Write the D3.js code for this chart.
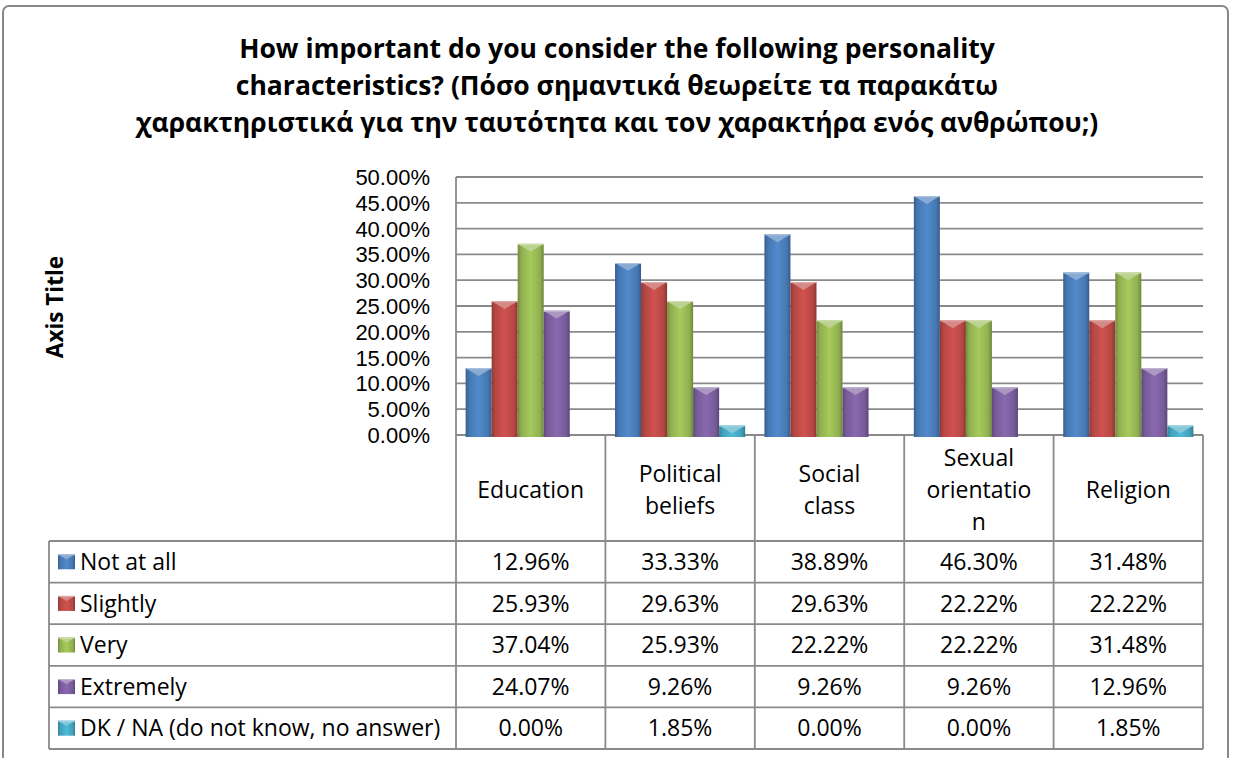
<!DOCTYPE html>
<html>
<head>
<meta charset="utf-8">
<script src="https://cdn.jsdelivr.net/npm/d3@7"></script>
<style>
  html, body { margin: 0; padding: 0; background: #fff; }
  svg { display: block; font-family: "Open Sans", "Noto Sans", sans-serif; }
</style>
</head>
<body>
<svg id="chart" width="1233" height="758"></svg>
<script>
// ---- data ----
const categories = ["Education", "Political beliefs", "Social class", "Sexual orientation", "Religion"];
const headerLines = [["Education"], ["Political", "beliefs"], ["Social", "class"], ["Sexual", "orientatio", "n"], ["Religion"]];
const seriesNames = ["Not at all", "Slightly", "Very", "Extremely", "DK / NA (do not know, no answer)"];
const notAtAll  = [12.96, 33.33, 38.89, 46.30, 31.48];
const slightly  = [25.93, 29.63, 29.63, 22.22, 22.22];
const very      = [37.04, 25.93, 22.22, 22.22, 31.48];
const extremely = [24.07,  9.26,  9.26,  9.26, 12.96];
const dkna      = [ 0.00,  1.85,  0.00,  0.00,  1.85];
const yTicks = [0, 5, 10, 15, 20, 25, 30, 35, 40, 45, 50];
const titleLines = [
  "How important do you consider the following personality",
  "characteristics? (Πόσο σημαντικά θεωρείτε τα παρακάτω",
  "χαρακτηριστικά για την ταυτότητα και τον χαρακτήρα ενός ανθρώπου;)"
];
const seriesValues = [notAtAll, slightly, very, extremely, dkna];
const seriesColors = ["#4A7EBB", "#BE4B48", "#98B954", "#7D60A0", "#46AAC5"];

// ---- layout ----
const svg = d3.select("#chart");
const plot = { left: 456, right: 1203, top: 177, bottom: 435 };
const tableLeft = 49, headerBottom = 541, tableBottom = 749;
const gridColor = "#8a8a8a";

const x = d3.scaleBand().domain(categories).range([plot.left, plot.right]).paddingInner(0).paddingOuter(0);
const xs = d3.scaleBand().domain(seriesNames).range([0, x.bandwidth()]).paddingOuter(0.37).paddingInner(0);
const y = d3.scaleLinear().domain([0, 50]).range([plot.bottom, plot.top]);
const rowY = d3.scaleBand().domain(seriesNames).range([headerBottom, tableBottom]);

// ---- gradients for the bevelled bars ----
const defs = svg.append("defs");
seriesColors.forEach((c, i) => {
  const base = d3.color(c);
  const g = defs.append("linearGradient").attr("id", "bar" + i).attr("x1", 0).attr("x2", 1).attr("y1", 0).attr("y2", 0);
  g.append("stop").attr("offset", "0%").attr("stop-color", base.darker(0.8));
  g.append("stop").attr("offset", "14%").attr("stop-color", base.darker(0.15));
  g.append("stop").attr("offset", "50%").attr("stop-color", base.brighter(0.25));
  g.append("stop").attr("offset", "86%").attr("stop-color", base.darker(0.15));
  g.append("stop").attr("offset", "100%").attr("stop-color", base.darker(0.9));
});

function bevelBar(sel, bx, by, bw, bh, i) {
  const base = d3.color(seriesColors[i]);
  sel.append("rect").attr("x", bx).attr("y", by).attr("width", bw).attr("height", bh)
    .attr("fill", `url(#bar${i})`);
  const d = Math.min(bw * 0.3, bh);
  const top = d3.interpolateRgb(base, "#ffffff")(0.35);
  sel.append("path")
    .attr("d", `M${bx},${by}L${bx + bw},${by}L${bx + bw / 2},${by + d}Z`)
    .attr("fill", top);
  sel.append("line").attr("x1", bx).attr("x2", bx + bw).attr("y1", by + 0.5).attr("y2", by + 0.5)
    .attr("stroke", d3.interpolateRgb(base, "#ffffff")(0.55)).attr("stroke-width", 1);
}

// ---- outer frame ----
svg.append("rect").attr("x", 3).attr("y", 6).attr("width", 1225).attr("height", 800)
  .attr("rx", 6).attr("fill", "#fff").attr("stroke", "#878787").attr("stroke-width", 2);

// ---- title ----
svg.append("g").selectAll("text").data(titleLines).join("text")
  .attr("x", 617).attr("y", (d, i) => 58 + i * 37)
  .attr("text-anchor", "middle").attr("font-weight", "bold").attr("font-size", 26.5)
  .attr("fill", "#000").text(d => d);

// ---- gridlines ----
svg.append("g").selectAll("line").data(yTicks).join("line")
  .attr("x1", plot.left).attr("x2", plot.right)
  .attr("y1", d => y(d)).attr("y2", d => y(d))
  .attr("stroke", gridColor).attr("stroke-width", 1.8);

// ---- y axis labels (compact font so the tightly stacked labels keep clear of each other) ----
svg.append("g").selectAll("text").data(yTicks).join("text")
  .attr("x", 430).attr("y", d => y(d)).attr("dy", "0.36em")
  .attr("text-anchor", "end").attr("font-size", 22).attr("fill", "#000")
  .attr("font-family", "'Liberation Sans', Arial, sans-serif")
  .text(d => d3.format(".2f")(d) + "%");

svg.append("text")
  .attr("transform", "translate(55,307) rotate(-90)")
  .attr("text-anchor", "middle").attr("dy", "0.35em")
  .attr("font-weight", "bold").attr("font-size", 22.5).text("Axis Title");

// ---- bars ----
const barG = svg.append("g");
seriesValues.forEach((vals, si) => {
  vals.forEach((v, ci) => {
    if (v <= 0) return;
    const bx = x(categories[ci]) + xs(seriesNames[si]);
    const by = y(v);
    bevelBar(barG, bx, by, xs.bandwidth(), plot.bottom - by + 2, si);
  });
});

// ---- data table ----
const tg = svg.append("g").attr("stroke", gridColor).attr("stroke-width", 1.8);
// horizontal rules
[headerBottom, ...seriesNames.map(s => rowY(s) + rowY.bandwidth())].forEach(ry => {
  tg.append("line").attr("x1", tableLeft).attr("x2", plot.right).attr("y1", ry).attr("y2", ry);
});
// vertical rules
tg.append("line").attr("x1", tableLeft).attr("x2", tableLeft).attr("y1", headerBottom).attr("y2", tableBottom);
tg.append("line").attr("x1", plot.left).attr("x2", plot.left).attr("y1", plot.top).attr("y2", tableBottom);
categories.forEach(c => {
  const vx = x(c) + x.bandwidth();
  tg.append("line").attr("x1", vx).attr("x2", vx).attr("y1", plot.bottom).attr("y2", tableBottom);
});

// header labels
categories.forEach((c, ci) => {
  const lines = headerLines[ci];
  const cy = (plot.bottom + headerBottom) / 2 + 2;
  const lh = 32;
  lines.forEach((ln, li) => {
    svg.append("text")
      .attr("x", x(c) + x.bandwidth() / 2)
      .attr("y", cy + (li - (lines.length - 1) / 2) * lh)
      .attr("dy", "0.36em").attr("text-anchor", "middle").attr("font-size", 23)
      .text(ln);
  });
});

// legend keys, series names and values
seriesNames.forEach((s, si) => {
  const cy = rowY(s) + rowY.bandwidth() / 2;
  const kg = svg.append("g");
  bevelBar(kg, 58, cy - 7.5, 17, 15, si);
  svg.append("text").attr("x", 80).attr("y", cy).attr("dy", "0.36em")
    .attr("font-size", 23).text(s);
  seriesValues[si].forEach((v, ci) => {
    svg.append("text")
      .attr("x", x(categories[ci]) + x.bandwidth() / 2).attr("y", cy).attr("dy", "0.36em")
      .attr("text-anchor", "middle").attr("font-size", 23)
      .text(d3.format(".2f")(v) + "%");
  });
});
</script>
</body>
</html>
